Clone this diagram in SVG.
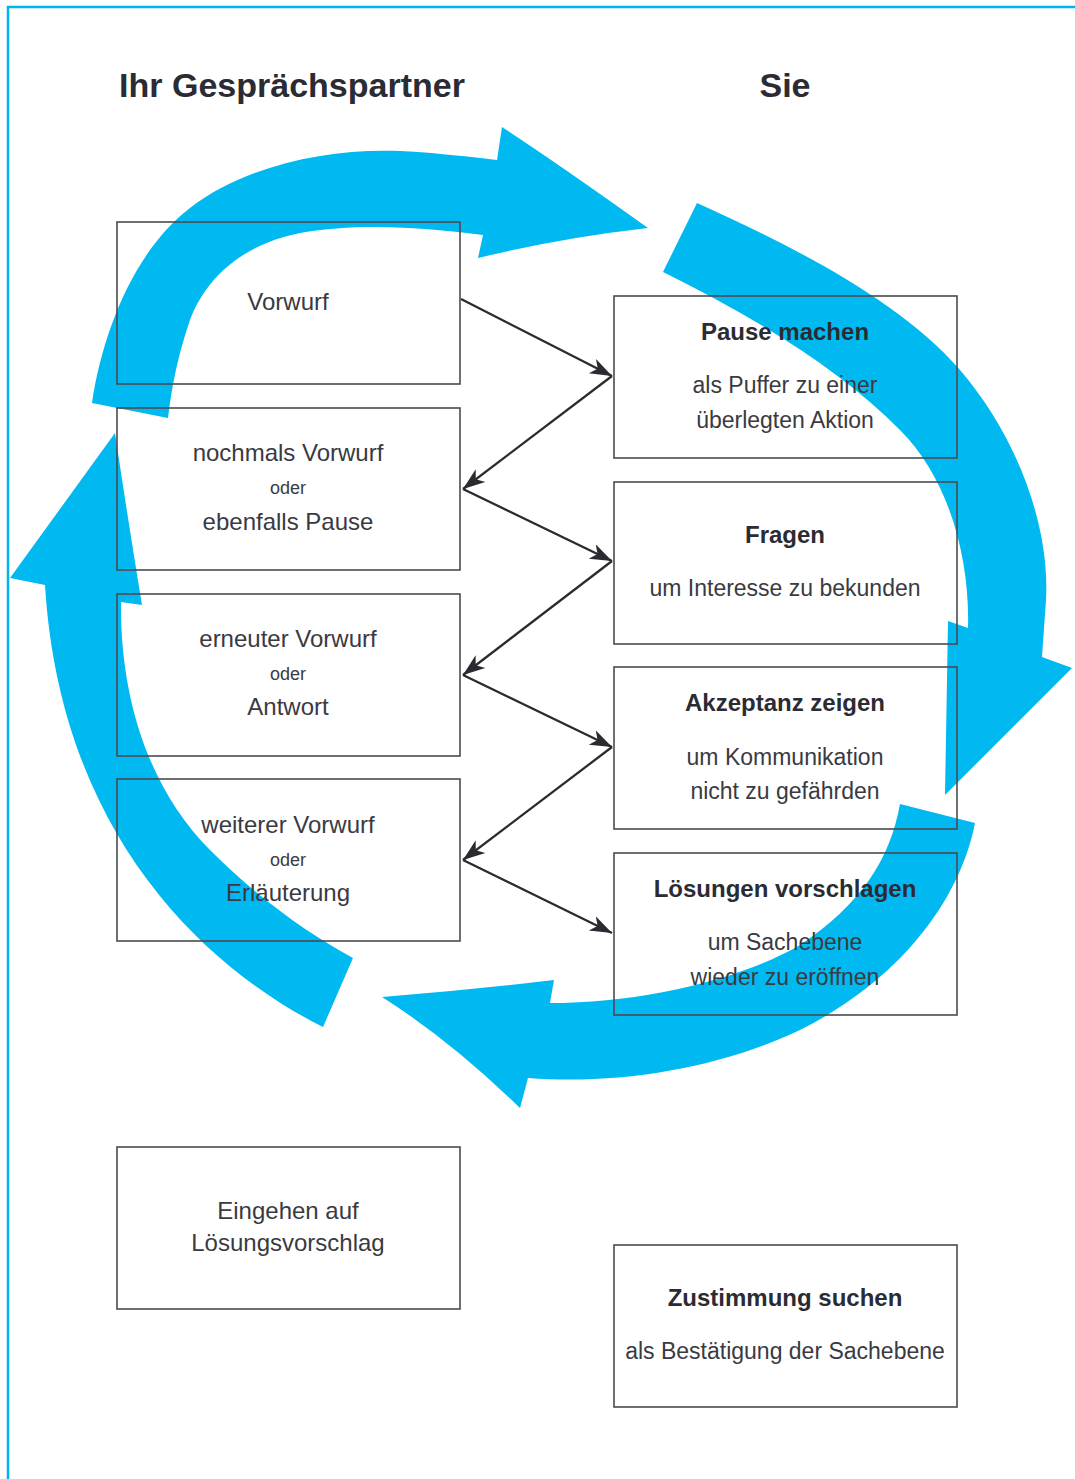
<svg xmlns="http://www.w3.org/2000/svg" width="1075" height="1479" viewBox="0 0 1075 1479">
<style>
.bg{fill:#ffffff}
.frame{fill:none;stroke:#00b5ef;stroke-width:2.5}
.flow{fill:#00b9f0;stroke:none}
.box{fill:none;stroke:#4a4a50;stroke-width:1.6}
.head{font-family:"Liberation Sans",Arial,sans-serif;font-weight:bold;font-size:34px;fill:#2b2b33;text-anchor:middle}
.t{font-family:"Liberation Sans",Arial,sans-serif;font-size:23px;fill:#3a3a42;text-anchor:middle}
.b{font-family:"Liberation Sans",Arial,sans-serif;font-weight:bold;font-size:24px;fill:#2b2b33;text-anchor:middle}
.s{font-family:"Liberation Sans",Arial,sans-serif;font-size:18px;fill:#3a3a42;text-anchor:middle}
.conn{fill:none;stroke:#2a2a30;stroke-width:2.3}
</style>
<defs>
<marker id="ah" viewBox="-22 -10 24 20" refX="0" refY="0" markerWidth="24" markerHeight="20" markerUnits="userSpaceOnUse" orient="auto">
<path d="M0,0 L-22,-8 L-16,0 L-22,8 Z" fill="#2a2a30"/>
</marker>
</defs>
<rect class="bg" x="0" y="0" width="1075" height="1479"/>
<path class="frame" d="M8,1479 L8,7 L1075,7"/>

<g id="titles">
<text class="head" x="292" y="97">Ihr Gesprächspartner</text>
<text class="head" x="785" y="97">Sie</text>
</g>

<g id="cycle-arrows">
<path class="flow" d="M92,403 C103,330 135,250 190,208 C245,165 330,148 400,151 C440,153 470,157 497,160 L502,127 Q560,165 648,228 Q560,238 478,258 L483,235 C430,228 360,222 300,233 C240,245 205,280 190,320 C178,355 172,385 168,418 Z"/>
<path class="flow" d="M697,203 C790,245 900,300 960,370 C1020,440 1050,530 1046,600 L1042,657 L1072,668 L945,795 L948,621 L968,628 C970,560 950,480 900,430 C840,370 760,320 663,272 Z"/>
<path class="flow" d="M975,823 C960,900 900,980 800,1030 C720,1068 620,1085 528,1078 L520,1108 Q450,1040 382,997 Q470,990 554,980 L550,1003 C640,1003 740,980 800,945 C860,905 890,860 900,804 Z"/>
<path class="flow" d="M323,1027 C200,965 60,830 45,585 L10,578 L115,433 Q128,520 142,605 L121,602 C120,700 150,790 210,850 C260,900 310,935 353,958 Z"/>
</g>

<g id="connectors">
<line class="conn" x1="461" y1="299" x2="612" y2="376" marker-end="url(#ah)"/>
<line class="conn" x1="612" y1="376" x2="463" y2="489" marker-end="url(#ah)"/>
<line class="conn" x1="463" y1="489" x2="612" y2="561" marker-end="url(#ah)"/>
<line class="conn" x1="612" y1="561" x2="463" y2="675" marker-end="url(#ah)"/>
<line class="conn" x1="463" y1="675" x2="612" y2="747" marker-end="url(#ah)"/>
<line class="conn" x1="612" y1="747" x2="463" y2="860" marker-end="url(#ah)"/>
<line class="conn" x1="463" y1="860" x2="612" y2="933" marker-end="url(#ah)"/>
</g>

<g id="n-vorwurf">
<rect class="box" x="117" y="222" width="343" height="162"/>
<text class="t" x="288" y="310" style="font-size:24px">Vorwurf</text>
</g>
<g id="n-nochmals">
<rect class="box" x="117" y="408" width="343" height="162"/>
<text class="t" x="288" y="461" style="font-size:24px">nochmals Vorwurf</text>
<text class="s" x="288" y="494">oder</text>
<text class="t" x="288" y="530" style="font-size:24px">ebenfalls Pause</text>
</g>
<g id="n-erneuter">
<rect class="box" x="117" y="594" width="343" height="162"/>
<text class="t" x="288" y="647" style="font-size:24px">erneuter Vorwurf</text>
<text class="s" x="288" y="680">oder</text>
<text class="t" x="288" y="715" style="font-size:24px">Antwort</text>
</g>
<g id="n-weiterer">
<rect class="box" x="117" y="779" width="343" height="162"/>
<text class="t" x="288" y="833" style="font-size:24px">weiterer Vorwurf</text>
<text class="s" x="288" y="866">oder</text>
<text class="t" x="288" y="901" style="font-size:24px">Erläuterung</text>
</g>
<g id="n-eingehen">
<rect class="box" x="117" y="1147" width="343" height="162"/>
<text class="t" x="288" y="1219" style="font-size:24px">Eingehen auf</text>
<text class="t" x="288" y="1251" style="font-size:24px">Lösungsvorschlag</text>
</g>

<g id="n-pause">
<rect class="box" x="614" y="296" width="343" height="162"/>
<text class="b" x="785" y="340">Pause machen</text>
<text class="t" x="785" y="393">als Puffer zu einer</text>
<text class="t" x="785" y="428">überlegten Aktion</text>
</g>
<g id="n-fragen">
<rect class="box" x="614" y="482" width="343" height="162"/>
<text class="b" x="785" y="543">Fragen</text>
<text class="t" x="785" y="596">um Interesse zu bekunden</text>
</g>
<g id="n-akzeptanz">
<rect class="box" x="614" y="667" width="343" height="162"/>
<text class="b" x="785" y="711">Akzeptanz zeigen</text>
<text class="t" x="785" y="765">um Kommunikation</text>
<text class="t" x="785" y="799">nicht zu gefährden</text>
</g>
<g id="n-loesungen">
<rect class="box" x="614" y="853" width="343" height="162"/>
<text class="b" x="785" y="897">Lösungen vorschlagen</text>
<text class="t" x="785" y="950">um Sachebene</text>
<text class="t" x="785" y="985">wieder zu eröffnen</text>
</g>
<g id="n-zustimmung">
<rect class="box" x="614" y="1245" width="343" height="162"/>
<text class="b" x="785" y="1306">Zustimmung suchen</text>
<text class="t" x="785" y="1359">als Bestätigung der Sachebene</text>
</g>
</svg>
